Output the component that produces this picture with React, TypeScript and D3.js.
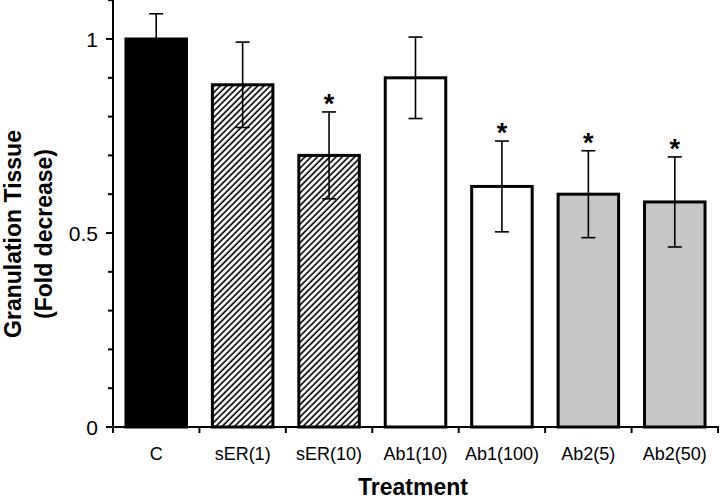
import React, { useEffect, useRef } from 'react';
import * as d3 from 'd3';

const categories = ['C', 'sER(1)', 'sER(10)', 'Ab1(10)', 'Ab1(100)', 'Ab2(5)', 'Ab2(50)'];
const values = [1.0, 0.882, 0.7, 0.9, 0.62, 0.6, 0.58];
const errors = [0.065, 0.11, 0.112, 0.105, 0.117, 0.112, 0.116];
const fills = ['black', 'hatch', 'hatch', 'white', 'white', 'gray', 'gray'];
const significant = [false, false, true, false, true, true, true];
const majorTicks = [0, 0.5, 1];
const minorTicks = [0.1, 0.2, 0.3, 0.4, 0.6, 0.7, 0.8, 0.9, 1.1];

const FONT = 'Liberation Sans, Arial, sans-serif';

function App() {
    const svgRef = useRef<SVGSVGElement>(null);

    useEffect(() => {
        const svg = d3.select(svgRef.current);
        svg.selectAll('*').remove();

        const left = 113;
        const right = 718;
        const bottom = 427;

        const x = d3.scaleBand().domain(categories).range([left, right]).paddingInner(0.3).paddingOuter(0.15);
        const y = d3.scaleLinear().domain([0, 1.1]).range([bottom, bottom - 1.1 * 388]);

        const pat = svg
            .append('defs')
            .append('pattern')
            .attr('id', 'hatch')
            .attr('patternUnits', 'userSpaceOnUse')
            .attr('width', 4.4)
            .attr('height', 4.4)
            .attr('patternTransform', 'rotate(45)');
        pat.append('rect').attr('width', 4.4).attr('height', 4.4).attr('fill', 'white');
        pat.append('line')
            .attr('x1', 1).attr('y1', 0).attr('x2', 1).attr('y2', 4.4)
            .attr('stroke', 'black').attr('stroke-width', 1.6);

        const fillOf = (f: string) =>
            f === 'black' ? '#000' : f === 'hatch' ? 'url(#hatch)' : f === 'gray' ? '#c6c6c6' : '#fff';

        // bars
        svg.append('g')
            .selectAll('rect')
            .data(categories)
            .join('rect')
            .attr('x', (d) => x(d)!)
            .attr('y', (d, i) => y(values[i]))
            .attr('width', x.bandwidth())
            .attr('height', (d, i) => bottom - y(values[i]))
            .attr('fill', (d, i) => fillOf(fills[i]))
            .attr('stroke', 'black')
            .attr('stroke-width', 3);

        // error bars
        const eb = svg.append('g').attr('stroke', 'black').attr('stroke-width', 1.6);
        categories.forEach((c, i) => {
            const cx = x(c)! + x.bandwidth() / 2;
            const hi = y(values[i] + errors[i]);
            const lo = y(values[i] - errors[i]);
            eb.append('line').attr('x1', cx).attr('x2', cx).attr('y1', hi).attr('y2', lo);
            eb.append('line').attr('x1', cx - 7).attr('x2', cx + 7).attr('y1', hi).attr('y2', hi);
            eb.append('line').attr('x1', cx - 7).attr('x2', cx + 7).attr('y1', lo).attr('y2', lo);
            if (significant[i]) {
                svg.append('text')
                    .attr('x', cx)
                    .attr('y', hi + 1)
                    .attr('text-anchor', 'middle')
                    .attr('font-family', FONT)
                    .attr('font-weight', 'bold')
                    .attr('font-size', 27)
                    .text('*');
            }
        });

        // y axis
        const ya = svg.append('g').attr('stroke', 'black').attr('stroke-width', 2);
        ya.append('line').attr('x1', left).attr('x2', left).attr('y1', 0).attr('y2', bottom + 1);
        majorTicks.forEach((t) => {
            ya.append('line').attr('x1', left - 7).attr('x2', left).attr('y1', y(t)).attr('y2', y(t));
        });
        minorTicks.forEach((t) => {
            ya.append('line').attr('x1', left - 5).attr('x2', left).attr('y1', y(t)).attr('y2', y(t));
        });
        svg.append('g')
            .selectAll('text')
            .data(majorTicks)
            .join('text')
            .attr('x', 98)
            .attr('y', (d) => y(d) + 7.5)
            .attr('text-anchor', 'end')
            .attr('font-family', FONT)
            .attr('font-size', 21)
            .text((d) => String(d));

        // x axis
        const xa = svg.append('g').attr('stroke', 'black').attr('stroke-width', 2);
        xa.append('line').attr('x1', left - 1).attr('x2', right + 1).attr('y1', bottom).attr('y2', bottom);
        const bounds = categories.map((c) => x(c)! - (x.step() * x.paddingInner()) / 2).concat([right]);
        bounds[0] = left;
        bounds.forEach((b) => {
            xa.append('line').attr('x1', b).attr('x2', b).attr('y1', bottom).attr('y2', bottom + 6);
        });
        svg.append('g')
            .selectAll('text')
            .data(categories)
            .join('text')
            .attr('x', (d) => x(d)! + x.bandwidth() / 2)
            .attr('y', 460)
            .attr('text-anchor', 'middle')
            .attr('font-family', FONT)
            .attr('font-size', 18)
            .text((d) => d);

        svg.append('text')
            .attr('x', 413)
            .attr('y', 495)
            .attr('text-anchor', 'middle')
            .attr('font-family', FONT)
            .attr('font-weight', 'bold')
            .attr('font-size', 23)
            .text('Treatment');

        const yt = svg.append('text')
            .attr('transform', `translate(0, 234) rotate(-90)`)
            .attr('text-anchor', 'middle')
            .attr('font-family', FONT)
            .attr('font-weight', 'bold')
            .attr('font-size', 23);
        yt.append('tspan').attr('x', 0).attr('y', 21).text('Granulation Tissue');
        yt.append('tspan').attr('x', 0).attr('y', 52).text('(Fold decrease)');
    }, []);

    return (
        <svg
            ref={svgRef}
            width={720}
            height={501}
            style={{ position: 'absolute', left: 0, top: 0, background: 'white' }}
        ></svg>
    );
}

export default App;
